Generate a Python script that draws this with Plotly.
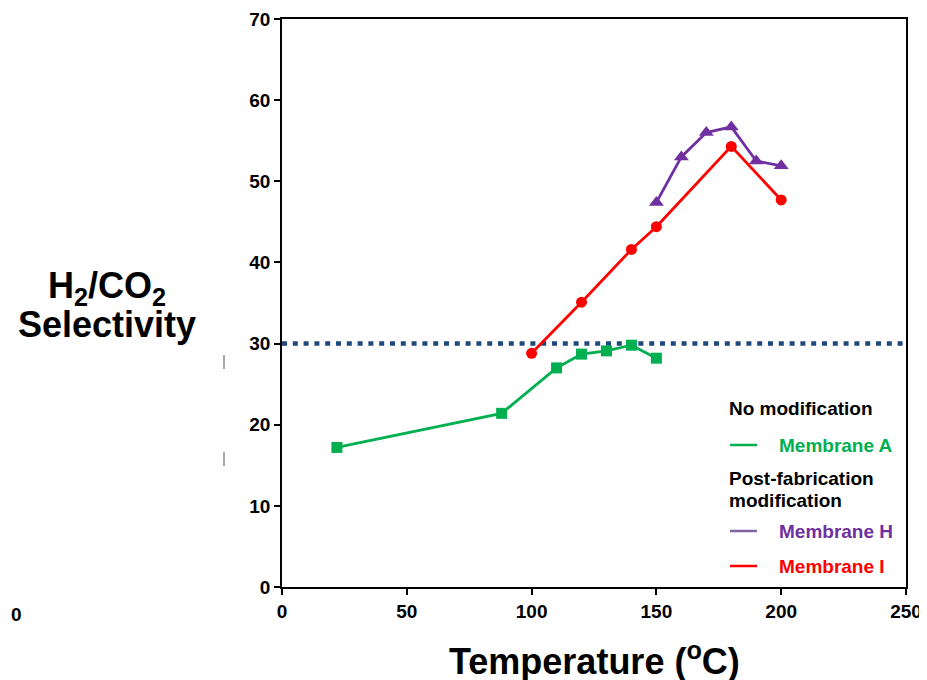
import plotly.graph_objects as go

# Data
temp_A = [22, 88, 110, 120, 130, 140, 150]
sel_A = [17.2, 21.4, 27.0, 28.7, 29.1, 29.8, 28.2]

temp_H = [150, 160, 170, 180, 190, 200]
sel_H = [47.4, 53.0, 56.0, 56.7, 52.5, 51.9]

temp_I = [100, 120, 140, 150, 180, 200]
sel_I = [28.8, 35.1, 41.6, 44.4, 54.3, 47.7]

target_sel = 30

x_ticks = [0, 50, 100, 150, 200, 250]
y_ticks = [0, 10, 20, 30, 40, 50, 60, 70]

GREEN = "#00B050"
PURPLE = "#7030A0"
RED = "#FF0000"
NAVY = "#1F497D"
FONT = "Arial, 'Liberation Sans', sans-serif"

fig = go.Figure()
fig.add_trace(go.Scatter(x=temp_A, y=sel_A, mode="lines+markers", name="Membrane A",
                         line=dict(color=GREEN, width=2.8),
                         marker=dict(symbol="square", size=11, color=GREEN)))
fig.add_trace(go.Scatter(x=temp_I, y=sel_I, mode="lines+markers", name="Membrane I",
                         line=dict(color=RED, width=2.8),
                         marker=dict(symbol="circle", size=11, color=RED)))
fig.add_trace(go.Scatter(x=temp_H, y=sel_H, mode="lines+markers", name="Membrane H",
                         line=dict(color=PURPLE, width=2.8),
                         marker=dict(symbol="triangle-up", size=13, color=PURPLE)))

# The page has an 8px body margin: figure is drawn at page offset (8, 8).
OFF = 8
W, H = 927 - OFF, 680 - OFF
# plot area in page pixels: x 282..906, y 19..587
L, T = 282 - OFF, 19 - OFF
R = W - (906 - OFF)
B = H - (587 - OFF)
PW, PH = 906 - 282, 587 - 19


def px(xp):  # page pixel -> paper
    return (xp - 282) / PW


def py(yp):
    return (587 - yp) / PH


shapes = [
    dict(type="line", xref="paper", yref="y", x0=0, x1=1, y0=target_sel, y1=target_sel,
         line=dict(color=NAVY, width=4.5, dash="5px,5.8px"), layer="below"),
    # legend line samples
    dict(type="line", xref="paper", yref="paper", x0=px(730), x1=px(757), y0=py(445), y1=py(445),
         line=dict(color=GREEN, width=2.5)),
    dict(type="line", xref="paper", yref="paper", x0=px(730), x1=px(757), y0=py(531), y1=py(531),
         line=dict(color="#8064A2", width=2.5)),
    dict(type="line", xref="paper", yref="paper", x0=px(730), x1=px(757), y0=py(566), y1=py(566),
         line=dict(color=RED, width=2.5)),
    # small stray marks at left
    dict(type="line", xref="paper", yref="paper", x0=px(224), x1=px(224), y0=py(355), y1=py(369),
         line=dict(color="#555555", width=1)),
    dict(type="line", xref="paper", yref="paper", x0=px(224), x1=px(224), y0=py(452), y1=py(466),
         line=dict(color="#555555", width=1)),
]

bold = lambda s: "<b>" + s + "</b>"
annotations = [
    dict(text=bold("H<sub>2</sub>/CO<sub>2</sub>"), xref="paper", yref="paper",
         x=px(107), y=py(288), xanchor="center", yanchor="middle", showarrow=False,
         font=dict(family=FONT, size=36, color="black")),
    dict(text=bold("Selectivity"), xref="paper", yref="paper",
         x=px(107), y=py(324), xanchor="center", yanchor="middle", showarrow=False,
         font=dict(family=FONT, size=36, color="black")),
    dict(text=bold("Temperature (<sup>o</sup>C)"), xref="paper", yref="paper",
         x=px(594), y=py(659), xanchor="center", yanchor="middle", showarrow=False,
         font=dict(family=FONT, size=36, color="black")),
    dict(text=bold("No modification"), xref="paper", yref="paper",
         x=px(727), y=py(408), xanchor="left", yanchor="middle", showarrow=False,
         font=dict(family=FONT, size=19, color="black")),
    dict(text=bold("Membrane A"), xref="paper", yref="paper",
         x=px(777), y=py(445), xanchor="left", yanchor="middle", showarrow=False,
         font=dict(family=FONT, size=19, color=GREEN)),
    dict(text=bold("Post-fabrication"), xref="paper", yref="paper",
         x=px(727), y=py(478), xanchor="left", yanchor="middle", showarrow=False,
         font=dict(family=FONT, size=19, color="black")),
    dict(text=bold("modification"), xref="paper", yref="paper",
         x=px(727), y=py(500), xanchor="left", yanchor="middle", showarrow=False,
         font=dict(family=FONT, size=19, color="black")),
    dict(text=bold("Membrane H"), xref="paper", yref="paper",
         x=px(777), y=py(531), xanchor="left", yanchor="middle", showarrow=False,
         font=dict(family=FONT, size=19, color=PURPLE)),
    dict(text=bold("Membrane I"), xref="paper", yref="paper",
         x=px(777), y=py(566), xanchor="left", yanchor="middle", showarrow=False,
         font=dict(family=FONT, size=19, color=RED)),
    dict(text=bold("0"), xref="paper", yref="paper",
         x=px(9), y=py(614), xanchor="left", yanchor="middle", showarrow=False,
         font=dict(family=FONT, size=19, color="black")),
]

fig.update_layout(
    width=W, height=H,
    margin=dict(l=L, r=R, t=T, b=B, pad=0, autoexpand=False),
    paper_bgcolor="white", plot_bgcolor="white",
    showlegend=False,
    shapes=shapes, annotations=annotations,
    font=dict(family=FONT, color="black"),
)
fig.update_xaxes(range=[0, 250], tickvals=x_ticks, ticktext=[bold(str(v)) for v in x_ticks],
                 ticks="outside", ticklen=6, tickwidth=1.5, tickcolor="black",
                 showline=True, linecolor="black", linewidth=1.5, mirror=True,
                 showgrid=False, zeroline=False, automargin=False,
                 ticklabeloverflow="allow",
                 tickfont=dict(family=FONT, size=19, color="black"))
fig.update_yaxes(range=[0, 70], tickvals=y_ticks, ticktext=[bold(str(v)) for v in y_ticks],
                 ticks="outside", ticklen=6, tickwidth=1.5, tickcolor="black",
                 showline=True, linecolor="black", linewidth=1.5, mirror=True,
                 showgrid=False, zeroline=False, automargin=False,
                 tickfont=dict(family=FONT, size=19, color="black"))

fig.write_html("out.html")
